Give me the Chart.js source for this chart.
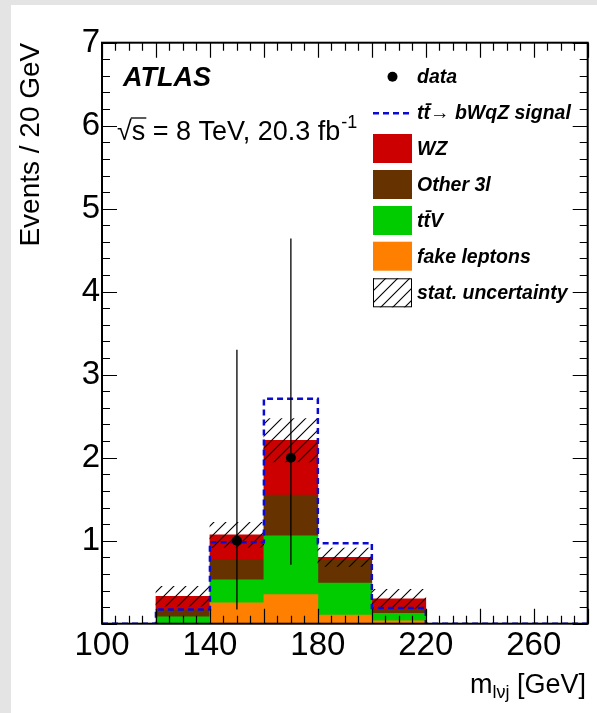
<!DOCTYPE html>
<html><head><meta charset="utf-8">
<script src="https://cdn.jsdelivr.net/npm/chart.js@4.4.0/dist/chart.umd.min.js"></script>
<style>
html,body{margin:0;padding:0;background:#e4e4e4;width:597px;height:713px;overflow:hidden}
#wrap{position:absolute;left:11px;top:5px;width:586px;height:708px;background:#fff}
canvas{display:block}
</style></head><body>
<div id="wrap"><canvas id="c" width="586" height="708"></canvas></div>
<script>
// ---- data ----
const binEdges   = [100, 120, 140, 160, 180, 200, 220, 240, 260, 280];
const binLabels  = ['100-120','120-140','140-160','160-180','180-200','200-220','220-240','240-260','260-280'];
const xTickLabels = [100, 140, 180, 220, 260];
const fakeLeptons = [0, 0,     0.25, 0.35, 0.105, 0.036, 0, 0, 0];
const ttV         = [0, 0.084, 0.28, 0.71, 0.385, 0.089, 0, 0, 0];
const other3l     = [0, 0.086, 0.24, 0.49, 0.28,  0.045, 0, 0, 0];
const wz          = [0, 0.16,  0.30, 0.66, 0.03,  0.13,  0, 0, 0];
const statUnc     = [0, 0.12,  0.15, 0.26, 0.11,  0.115, 0, 0, 0];
const signal      = [0, 0.17,  0.98, 2.71, 0.97,  0.19,  0, 0, 0];
const dataCounts  = [0, 0, 1, 2, 0, 0, 0, 0, 0];
const dataLow     = [0, 0, 0.17, 0.71, 0, 0, 0, 0, 0];
const dataHigh    = [0, 0, 3.30, 4.64, 0, 0, 0, 0, 0];

// ---- derived ----
const centers = binLabels.map((_, i) => (binEdges[i] + binEdges[i + 1]) / 2);
const totals = binLabels.map((_, i) => fakeLeptons[i] + ttV[i] + other3l[i] + wz[i]);
const uncBand = totals.map((t, i) => statUnc[i] > 0 ? [t - statUnc[i], t + statUnc[i]] : null);
const signalPts = binEdges.map((e, i) => ({x: e, y: i < signal.length ? signal[i] : signal[signal.length - 1]}));
const dataPts = [], errPts = [];
dataCounts.forEach((n, i) => {
  if (n > 0) {
    dataPts.push({x: centers[i], y: n});
    errPts.push({x: centers[i], y: dataLow[i]}, {x: centers[i], y: dataHigh[i]}, {x: centers[i], y: null});
  }
});

const COL = {wz: '#cc0000', other: '#663300', ttv: '#00cc00', fake: '#ff8000', sig: '#0a0ad2'};
const FONT = "'Liberation Sans', Arial, Helvetica, sans-serif";

function makeHatch() {
  const s = 12;
  const c = document.createElement('canvas'); c.width = s; c.height = s;
  const g = c.getContext('2d');
  g.strokeStyle = '#000'; g.lineWidth = 1.1;
  g.beginPath();
  g.moveTo(0, s); g.lineTo(s, 0);
  g.moveTo(-2, 2); g.lineTo(2, -2);
  g.moveTo(s - 2, s + 2); g.lineTo(s + 2, s - 2);
  g.stroke();
  return g.createPattern(c, 'repeat');
}
const hatch = makeHatch();

const decor = {
  id: 'decor',
  afterDatasetsDraw(chart) {
    const {ctx, chartArea: a, scales: {x, y}} = chart;
    ctx.save();
    ctx.strokeStyle = '#000';
    ctx.lineWidth = 1.2;
    ctx.beginPath();
    for (let v = x.min; v <= x.max + 1e-6; v += 5) {
      const px = Math.round(x.getPixelForValue(v)) + 0.5;
      const L = (v % 20 === 0) ? 15 : 8;
      ctx.moveTo(px, a.bottom); ctx.lineTo(px, a.bottom - L);
      ctx.moveTo(px, a.top); ctx.lineTo(px, a.top + L);
    }
    for (let i = 0; i <= 35; i++) {
      const py = Math.round(y.getPixelForValue(i * 0.2)) + 0.5;
      const L = (i % 5 === 0) ? 15 : 8;
      ctx.moveTo(a.left, py); ctx.lineTo(a.left + L, py);
      ctx.moveTo(a.right, py); ctx.lineTo(a.right - L, py);
    }
    ctx.stroke();
    ctx.lineWidth = 2;
    ctx.strokeRect(a.left, a.top, a.right - a.left, a.bottom - a.top);
    ctx.restore();
  },
  afterDraw(chart) {
    const {ctx} = chart;
    ctx.save();
    ctx.fillStyle = '#000';
    ctx.textBaseline = 'alphabetic';
    // ATLAS label
    ctx.font = `italic bold 27px ${FONT}`;
    ctx.fillText('ATLAS', 112, 81);
    // sqrt(s) label
    ctx.font = `27px ${FONT}`;
    let xx = 106;
    const rad = '\u221A';
    ctx.fillText(rad, xx, 135);
    xx += ctx.measureText(rad).width;
    const sW = ctx.measureText('s').width;
    ctx.fillText('s = 8 TeV, 20.3 fb', xx, 135);
    ctx.lineWidth = 1.3;
    ctx.beginPath(); ctx.moveTo(xx - 1, 113); ctx.lineTo(xx + sW + 1, 113); ctx.stroke();
    xx += ctx.measureText('s = 8 TeV, 20.3 fb').width;
    ctx.font = `18px ${FONT}`;
    ctx.fillText('-1', xx + 1, 123);
    // legend
    const bx = 362, bw = 39, bh = 29, tx = 406;
    ctx.font = `italic bold 19.5px ${FONT}`;
    ctx.textBaseline = 'middle';
    // data
    ctx.beginPath(); ctx.arc(381.5, 71.7, 5, 0, Math.PI * 2); ctx.fill();
    ctx.fillText('data', tx, 72.5);
    // signal
    ctx.save();
    ctx.strokeStyle = COL.sig; ctx.lineWidth = 2.5; ctx.setLineDash([6, 4]);
    ctx.beginPath(); ctx.moveTo(bx, 108.3); ctx.lineTo(bx + bw, 108.3); ctx.stroke();
    ctx.restore();
    ctx.fillText('tt\u0304\u2192 bWqZ signal', tx, 109);
    const boxes = [
      [COL.wz, 'WZ', 129],
      [COL.other, 'Other 3l', 165],
      [COL.ttv, 'tt\u0304V', 201],
      [COL.fake, 'fake leptons', 236.7],
    ];
    boxes.forEach(([c, t, top]) => {
      ctx.fillStyle = c; ctx.fillRect(bx, top, bw, bh);
      ctx.fillStyle = '#000'; ctx.fillText(t, tx, top + bh / 2 + 1);
    });
    ctx.fillStyle = '#fff'; ctx.fillRect(bx, 273.3, bw, bh);
    ctx.fillStyle = hatch; ctx.fillRect(bx, 273.3, bw, bh);
    ctx.strokeStyle = '#000'; ctx.lineWidth = 1; ctx.strokeRect(bx + 0.5, 273.8, bw - 1, bh - 1);
    ctx.fillStyle = '#000';
    ctx.fillText('stat. uncertainty', tx, 273.3 + bh / 2 + 1);
    // x-axis title
    ctx.textBaseline = 'alphabetic';
    ctx.textAlign = 'left';
    const big = `27px ${FONT}`, small = `18px ${FONT}`;
    ctx.font = big; const w1 = ctx.measureText('m').width, w3 = ctx.measureText(' [GeV]').width;
    ctx.font = small; const w2 = ctx.measureText('l\u03BDj').width;
    let sx = 575 - (w1 + w2 + w3);
    ctx.font = big; ctx.fillText('m', sx, 688); sx += w1;
    ctx.font = small; ctx.fillText('l\u03BDj', sx, 693); sx += w2;
    ctx.font = big; ctx.fillText(' [GeV]', sx, 688);
    ctx.restore();
  }
};

Chart.defaults.color = '#000';
Chart.defaults.font.family = FONT;

const barCommon = {type: 'bar', xAxisID: 'xb', yAxisID: 'y', borderWidth: 0,
  barPercentage: 1, categoryPercentage: 1, grouped: false};

new Chart(document.getElementById('c'), {
  type: 'bar',
  data: {
    labels: binLabels,
    datasets: [
      {type: 'line', label: 'data', data: dataPts, xAxisID: 'x', yAxisID: 'y', showLine: false,
       pointRadius: 5, pointBackgroundColor: '#000', pointBorderWidth: 0, order: 0},
      {type: 'line', label: 'data errors', data: errPts, xAxisID: 'x', yAxisID: 'y', spanGaps: false,
       pointRadius: 0, borderColor: '#000', borderWidth: 1.3, order: 1},
      {type: 'line', label: 'signal', data: signalPts, xAxisID: 'x', yAxisID: 'y', stepped: true,
       pointRadius: 0, borderColor: COL.sig, borderWidth: 2.5, borderDash: [6, 4], fill: false, order: 2},
      {...barCommon, label: 'stat. uncertainty', data: uncBand, backgroundColor: hatch, order: 3},
      {...barCommon, label: 'fake leptons', data: fakeLeptons, stack: 'bkg', backgroundColor: COL.fake, order: 4},
      {...barCommon, label: 'ttV', data: ttV, stack: 'bkg', backgroundColor: COL.ttv, order: 5},
      {...barCommon, label: 'Other 3l', data: other3l, stack: 'bkg', backgroundColor: COL.other, order: 6},
      {...barCommon, label: 'WZ', data: wz, stack: 'bkg', backgroundColor: COL.wz, order: 7},
    ]
  },
  options: {
    responsive: false,
    animation: false,
    devicePixelRatio: 1,
    layout: {padding: {left: 0, top: 37.7, right: 9.3, bottom: 0}},
    plugins: {legend: {display: false}, tooltip: {enabled: false}},
    scales: {
      x: {
        type: 'linear', position: 'bottom', min: binEdges[0], max: binEdges[binEdges.length - 1],
        offset: false,
        grid: {display: false, drawTicks: false}, border: {display: false},
        afterBuildTicks: (s) => { s.ticks = xTickLabels.map(v => ({value: v})); },
        afterFit: (s) => { s.height = 89.3; },
        ticks: {font: {size: 33}, padding: 2, maxRotation: 0, autoSkip: false}
      },
      xb: {type: 'category', display: false, offset: true, grid: {offset: true}},
      y: {
        type: 'linear', position: 'left', min: 0, max: 7,
        grid: {display: false, drawTicks: false}, border: {display: false},
        afterFit: (s) => { s.width = 91; },
        ticks: {stepSize: 1, font: {size: 33}, padding: 2, callback: (v) => v === 0 ? '' : String(v)},
        title: {display: true, text: 'Events / 20 GeV', align: 'end', font: {size: 28}, padding: {top: 3, bottom: 0}}
      }
    }
  },
  plugins: [decor]
});
</script>
</body></html>
